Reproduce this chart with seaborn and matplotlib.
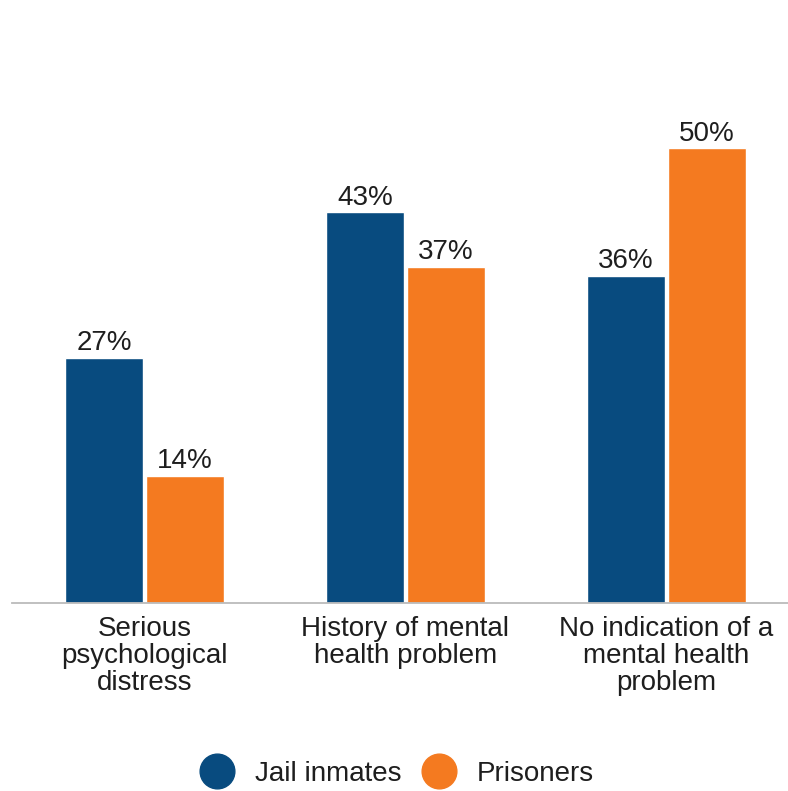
import matplotlib
matplotlib.use("Agg")
import matplotlib.pyplot as plt
from matplotlib.lines import Line2D
import seaborn as sns
import pandas as pd

categories = ["Serious\npsychological\ndistress", "History of mental\nhealth problem",
              "No indication of a\nmental health\nproblem"]
groups = ["Jail inmates", "Prisoners"]
jail_values = [27, 43, 36]
prison_values = [14, 37, 50]
colors = ["#084b7f", "#f47a20"]

df = pd.DataFrame({
    "category": categories * 2,
    "group": [groups[0]] * 3 + [groups[1]] * 3,
    "value": jail_values + prison_values,
})

sns.set_theme(style="white")
plt.rcParams["font.family"] = ["Liberation Sans", "DejaVu Sans"]
text_color = "#1e1e1e"
fs = 20

fig = plt.figure(figsize=(7.88, 7.91), dpi=100)
ax = fig.add_axes([12 / 788, 188 / 791, 776 / 788, 500 / 791])

sns.barplot(data=df, x="category", y="value", hue="group", order=categories,
            hue_order=groups, palette=colors, width=0.62, gap=0.03,
            saturation=1, legend=False, ax=ax)

for cont in ax.containers:
    ax.bar_label(cont, labels=[f"{v:.0f}%" for v in cont.datavalues],
                 padding=1, fontsize=fs, color=text_color)

ax.set_xlim(-0.507, 2.466)
ax.set_ylim(0, 55)
ax.set_xlabel("")
ax.set_ylabel("")
ax.set_yticks([])
for side in ["top", "right", "left"]:
    ax.spines[side].set_visible(False)
ax.spines["bottom"].set_color("#bbbbbb")
ax.spines["bottom"].set_linewidth(1.3)
ax.tick_params(axis="x", length=0, pad=9, labelsize=fs, labelcolor=text_color)
for lbl in ax.get_xticklabels():
    lbl.set_linespacing(1.06)

handles = [Line2D([0], [0], marker="o", linestyle="", markersize=25,
                  markerfacecolor=c, markeredgecolor=c) for c in colors]
fig.legend(handles, groups, loc="center", bbox_to_anchor=(397 / 788, 17 / 791),
           ncol=2, frameon=False, fontsize=fs, handletextpad=0.77,
           columnspacing=0.75, handlelength=1.2, labelcolor=text_color)

fig.savefig("out.png", dpi=100, facecolor="white")
